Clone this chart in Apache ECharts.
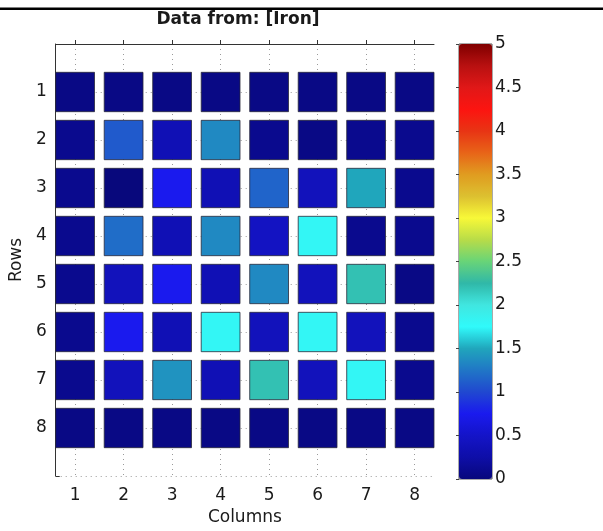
<!DOCTYPE html>
<html>
<head>
<meta charset="utf-8">
<script src="https://cdn.jsdelivr.net/npm/echarts@6/dist/echarts.min.js"></script>
<style>
html,body{margin:0;padding:0;background:#fff;}
#chart{width:603px;height:531px;}
</style>
</head>
<body>
<div id="chart"></div>
<script>
const titleText = 'Data from: [Iron]';
const columnLabels = ['1','2','3','4','5','6','7','8'];
const rowLabels = ['1','2','3','4','5','6','7','8'];
const colorbarTicks = [0,0.5,1,1.5,2,2.5,3,3.5,4,4.5,5];

const row1 = [0.05,0.05,0.05,0.05,0.05,0.05,0.05,0.05];
const row2 = [0.1,1.1,0.35,1.35,0.1,0.05,0.1,0.1];
const row3 = [0.1,0,0.75,0.35,1.15,0.4,1.5,0.1];
const row4 = [0.1,1.2,0.35,1.35,0.45,1.8,0.1,0.1];
const row5 = [0.1,0.4,0.75,0.35,1.35,0.4,2.2,0.05];
const row6 = [0.1,0.75,0.35,1.8,0.4,1.8,0.4,0.1];
const row7 = [0.1,0.4,1.4,0.35,2.2,0.4,1.8,0.1];
const row8 = [0.05,0.05,0.05,0.05,0.05,0.05,0.05,0.05];
const rows = [row1,row2,row3,row4,row5,row6,row7,row8];

const cmap = ['#08087c','#0e0ea8','#1414c8','#1a1aee','#2048d0','#2076c6','#20a6bc',
  '#30fafa','#40e6e0','#30b8a8','#68d478','#b8dc48','#f8f838','#dcc030','#e09c20',
  '#e86418','#e83414','#fc1410','#e01818','#b81010','#800000'];

const cells = [];
rows.forEach((r, i) => r.forEach((v, j) => cells.push([j + 1, i + 1, v])));

const FONT = 'DejaVu Sans, Verdana, sans-serif';
const TXT = '#1a1a1a';
const FS = 17;

const chart = echarts.init(document.getElementById('chart'), null, {renderer: 'canvas'});
chart.setOption({
  animation: false,
  backgroundColor: '#ffffff',
  textStyle: {fontFamily: FONT},
  graphic: [
    {type: 'rect', shape: {x: 0, y: 7.5, width: 603, height: 2.5}, style: {fill: '#000'}},
    {type: 'text', x: 238, y: 20, style: {text: titleText, fontFamily: FONT, fontSize: 17, fontWeight: 'bold', fill: TXT, align: 'center', verticalAlign: 'middle'}}
  ],
  grid: [
    {left: 54, top: 44, width: 380, height: 435},
    {left: 459, top: 44, width: 33, height: 435, show: true, borderColor: '#555', borderWidth: 1, backgroundColor: 'transparent'}
  ],
  xAxis: [
    {
      type: 'value', gridIndex: 0, min: 0.6, max: 8.4,
      name: 'Columns', nameLocation: 'middle', nameGap: 33,
      nameTextStyle: {fontSize: FS, color: TXT, fontFamily: FONT},
      axisLine: {show: true, lineStyle: {color: '#333', width: 1}},
      axisTick: {show: true, inside: true, length: 4, customValues: [1,2,3,4,5,6,7,8], lineStyle: {color: '#333'}},
      axisLabel: {show: true, customValues: [1,2,3,4,5,6,7,8], fontSize: FS, color: TXT, margin: 11,
        formatter: v => columnLabels[Math.round(v) - 1] || ''},
      splitLine: {show: true, lineStyle: {color: '#9a9a9a', type: [1, 4], width: 1}}
    },
    {type: 'value', gridIndex: 1, min: 0, max: 1, show: false}
  ],
  yAxis: [
    {
      type: 'value', gridIndex: 0, min: 0, max: 9, interval: 1, inverse: true,
      name: 'Rows', nameLocation: 'middle', nameGap: 25, nameRotate: 90,
      nameTextStyle: {fontSize: FS, color: TXT, fontFamily: FONT},
      axisLine: {show: true, lineStyle: {color: '#333', width: 1}},
      axisTick: {show: true, inside: true, length: 4, lineStyle: {color: '#333'}},
      axisLabel: {show: true, fontSize: FS, color: TXT, margin: 9,
        formatter: v => (v >= 1 && v <= 8) ? rowLabels[v - 1] : ''},
      splitLine: {show: true, lineStyle: {color: '#9a9a9a', type: [1, 4], width: 1}}
    },
    {
      type: 'value', gridIndex: 1, min: 0, max: 5, interval: 0.5, position: 'right',
      axisLine: {show: false},
      axisTick: {show: true, inside: true, length: 3, lineStyle: {color: '#444'}},
      axisLabel: {show: true, fontSize: FS, color: TXT, margin: 3,
        formatter: v => colorbarTicks.indexOf(v) >= 0 ? String(v) : ''},
      splitLine: {show: false}
    }
  ],
  visualMap: {
    type: 'continuous', min: 0, max: 5, dimension: 2, seriesIndex: 0,
    calculable: false, orient: 'vertical', left: 459, top: 44,
    itemWidth: 33, itemHeight: 435, padding: 0, text: null, showLabel: false,
    inRange: {color: cmap}, hoverLink: false
  },
  series: [{
    type: 'custom', xAxisIndex: 0, yAxisIndex: 0, data: cells,
    encode: {x: 0, y: 1},
    renderItem: function (params, api) {
      const x = api.value(0), y = api.value(1);
      const p1 = api.coord([x - 0.4, y - 0.41]);
      const p2 = api.coord([x + 0.4, y + 0.41]);
      return {
        type: 'rect',
        shape: {x: Math.min(p1[0], p2[0]), y: Math.min(p1[1], p2[1]), width: Math.abs(p2[0] - p1[0]), height: Math.abs(p2[1] - p1[1])},
        style: {fill: api.visual('color'), stroke: '#2a2a3a', lineWidth: 0.8}
      };
    }
  }]
});
</script>
</body>
</html>
